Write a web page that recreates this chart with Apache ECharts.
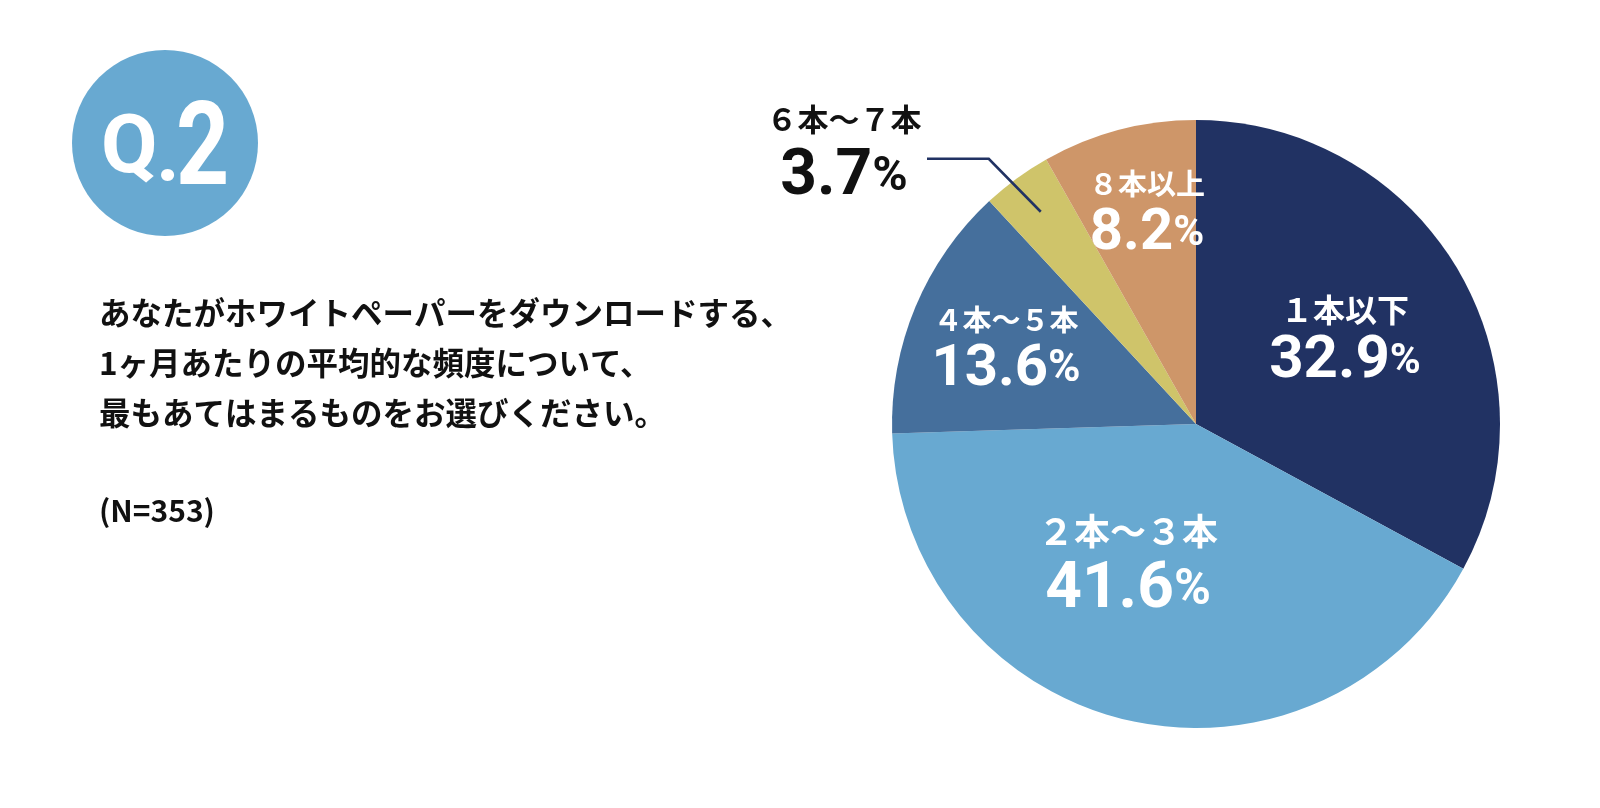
<!DOCTYPE html>
<html>
<head>
<meta charset="utf-8">
<script src="https://cdn.jsdelivr.net/npm/echarts@6/dist/echarts.min.js"></script>
<style>
    html, body { margin: 0; padding: 0; background: #fff; }
    #chart { width: 1600px; height: 808px; }
</style>
</head>
<body>
<div id="chart"></div>
<script>
// data
var categories = ['１本以下', '２本〜３本', '４本〜５本', '６本〜７本', '８本以上'];
var shares = [32.9, 41.6, 13.6, 3.7, 8.2];
var questionNo = ['Q', '.', '2'];
var questionLines = [
    'あなたがホワイトペーパーをダウンロードする、',
    '1ヶ月あたりの平均的な頻度について、',
    '最もあてはまるものをお選びください。'
];
var sampleNote = '(N=353)';

// look
var sliceColors = ['#213263', '#68a9d1', '#456f9c', '#cfc46a', '#ce9669'];
var pieCenter = [1196, 424];
var pieRadius = 304;
var calloutIndex = 3; // the small slice gets its label outside
// font sizes + where each label sits
var labelLook = [
    { name: 32, nameLH: 40, num: 60, pct: 42, numLH: 65, x: 1345, y: 342 },
    { name: 36, nameLH: 44, num: 64, pct: 50, numLH: 75, x: 1128, y: 569 },
    { name: 29, nameLH: 36, num: 58, pct: 44, numLH: 65, x: 1006, y: 352 },
    { name: 31, nameLH: 40, num: 64, pct: 48, numLH: 78, x: 844, y: 158 },
    { name: 29, nameLH: 36, num: 58, pct: 42, numLH: 65, x: 1147, y: 216 }
];

var jpFont = '"Noto Sans CJK JP", "Noto Sans", sans-serif';
var numFont = 'Roboto, "Noto Sans", sans-serif';

var total = 0;
for (var i = 0; i < shares.length; i++) total += shares[i];

var pieData = [];
for (var i = 0; i < categories.length; i++) {
    var look = labelLook[i];
    var outside = i === calloutIndex;
    var txt = outside ? '#111111' : '#ffffff';
    pieData.push({
        name: categories[i],
        value: shares[i],
        itemStyle: { color: sliceColors[i] },
        label: {
            position: outside ? 'outside' : 'inside',
            rich: {
                n: { fontFamily: jpFont, fontWeight: 'bold', fontSize: look.name, lineHeight: look.nameLH, color: txt },
                v: { fontFamily: numFont, fontWeight: 'bold', fontSize: look.num, lineHeight: look.numLH, color: txt },
                p: { fontFamily: numFont, fontWeight: 'bold', fontSize: look.pct, lineHeight: look.numLH, color: txt }
            }
        }
    });
}

// leader line for the outside label, starting inside its slice on the mid angle
var before = 0;
for (var k = 0; k < calloutIndex; k++) before += shares[k];
var midAngle = (before + shares[calloutIndex] / 2) / total * Math.PI * 2;
var lineStart = [pieCenter[0] + 263 * Math.sin(midAngle), pieCenter[1] - 263 * Math.cos(midAngle)];
var lineBend = [lineStart[0] - 52, lineStart[1] - 53];
var lineEnd = [927, lineBend[1]];

var myChart = echarts.init(document.getElementById('chart'), null, { renderer: 'canvas' });

var option = {
    animation: false,
    backgroundColor: '#ffffff',
    graphic: [
        { type: 'circle', shape: { cx: 165, cy: 143, r: 93 }, style: { fill: '#68a9d1' } },
        {
            type: 'text', x: 101, y: 151,
            style: { text: questionNo[0], fill: '#fff', font: 'bold 82px ' + numFont, textVerticalAlign: 'middle' }
        },
        {
            type: 'text', x: 156, y: 160,
            style: { text: questionNo[1], fill: '#fff', font: 'bold 82px ' + numFont, textVerticalAlign: 'middle' }
        },
        {
            type: 'text', x: 176, y: 155, scaleX: 0.8,
            style: { text: questionNo[2], fill: '#fff', font: 'bold 116px ' + numFont, textVerticalAlign: 'middle' }
        },
        {
            type: 'text', x: 99, y: 288,
            style: { text: questionLines.join('\n'), fill: '#111', font: 'bold 31.5px ' + jpFont, lineHeight: 50 }
        },
        {
            type: 'text', x: 99, y: 511,
            style: { text: sampleNote, fill: '#111', font: 'bold 30px ' + jpFont, textVerticalAlign: 'middle' }
        },
        {
            type: 'polyline', z: 100,
            shape: { points: [lineStart, lineBend, lineEnd] },
            style: { stroke: '#213263', lineWidth: 2.6, fill: null }
        }
    ],
    series: [
        {
            type: 'pie',
            center: pieCenter,
            radius: pieRadius,
            startAngle: 90,
            clockwise: true,
            avoidLabelOverlap: false,
            emphasis: { disabled: true },
            itemStyle: { borderWidth: 0 },
            label: {
                show: true,
                formatter: function (p) {
                    return '{n|' + p.name + '}\n{v|' + p.value.toFixed(1) + '}{p|%}';
                }
            },
            labelLine: { show: false },
            labelLayout: function (params) {
                var look = labelLook[params.dataIndex];
                return { x: look.x, y: look.y, align: 'center', verticalAlign: 'middle' };
            },
            data: pieData
        }
    ]
};

myChart.setOption(option);
</script>
</body>
</html>
